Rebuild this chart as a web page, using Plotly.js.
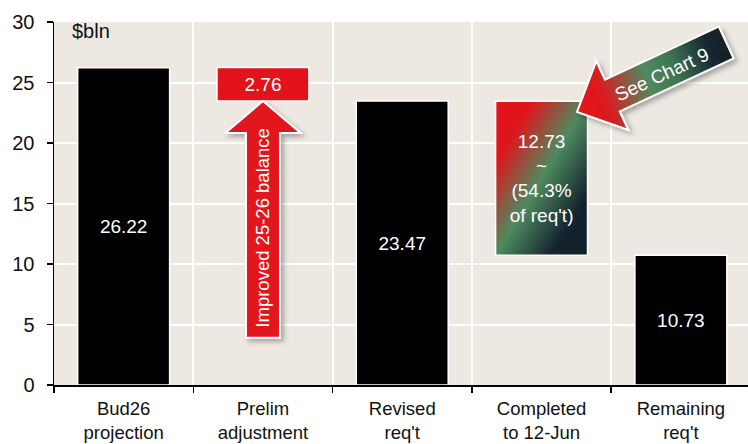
<!DOCTYPE html>
<html><head><meta charset="utf-8">
<script src="https://cdn.plot.ly/plotly-3.0.1.min.js"></script>
<style>html,body{margin:0;padding:0;background:#fff;overflow:hidden}#chart{width:748px;height:444px}</style>
</head><body><div id="chart"></div>
<script>
// ---- data ----
const categories = ['Bud26<br>projection', 'Prelim<br>adjustment', "Revised<br>req't", 'Completed<br>to 12-Jun', "Remaining<br>req't"];
const values = [26.22, 2.76, 23.47, 12.73, 10.73];
const bases = [0, 23.47, 0, 10.73, 0];
const shareOfReq = [null, null, null, '54.3%', null];
const yTickVals = [0, 5, 10, 15, 20, 25, 30];
const arrowLabels = ['Improved 25-26 balance', 'See Chart 9'];
const unitLabel = '$bln';

// ---- layout geometry ----
const W = 748, H = 444;
const M = {l: 54, r: 0, t: 22, b: 59};
const xRange = [-0.5, 4.482];
const yRange = [0, 30];
const plotW = W - M.l - M.r, plotH = H - M.t - M.b;
const px2x = px => xRange[0] + (px - M.l) / plotW * (xRange[1] - xRange[0]);
const py2y = py => yRange[0] + (M.t + plotH - py) / plotH * (yRange[1] - yRange[0]);

const barText = values.map((v, i) => shareOfReq[i]
  ? v.toFixed(2) + '<br>~<br>(' + shareOfReq[i] + "<br>of req't)"
  : v.toFixed(2));
const barColors = ['#000000', '#E2131B', '#000000', '#4E8A5F', '#000000'];

const FONT = 'Liberation Sans, Arial, sans-serif';

const data = [{
  type: 'bar',
  x: categories,
  y: values,
  base: bases,
  width: 0.66,
  marker: {color: barColors, line: {color: '#ffffff', width: 1.5}},
  text: barText,
  textposition: 'inside',
  insidetextanchor: 'middle',
  textangle: 0,
  constraintext: 'none',
  textfont: {family: FONT, size: 19, color: '#ffffff'},
  hoverinfo: 'none'
}];

// red up arrow (Prelim adjustment) in data coords
const rc = 1, tipY = bases[1], headBaseY = 20.83, bottomY = 3.9, headHalf = 0.27, shaftHalf = 0.122;
const redArrow = `M${rc - shaftHalf},${bottomY} L${rc - shaftHalf},${headBaseY} L${rc - headHalf},${headBaseY} L${rc},${tipY} L${rc + headHalf},${headBaseY} L${rc + shaftHalf},${headBaseY} L${rc + shaftHalf},${bottomY} Z`;

// gradient "See Chart 9" arrow, built in pixels then converted
const tip = [577, 112], ang = 25 * Math.PI / 180;
const u = [Math.cos(ang), -Math.sin(ang)], n = [Math.sin(ang), Math.cos(ang)];
const headLen = 39, headW = 38, shaftW = 17.5, totLen = 164.6;
const P = (a, b) => [tip[0] + a * u[0] + b * n[0], tip[1] + a * u[1] + b * n[1]];
const gPts = [P(0, 0), P(headLen, -headW), P(headLen, -shaftW), P(totLen, -shaftW), P(totLen, shaftW), P(headLen, shaftW), P(headLen, headW)];
const greenArrow = gPts.map((p, i) => (i ? 'L' : 'M') + px2x(p[0]).toFixed(4) + ',' + py2y(p[1]).toFixed(4)).join(' ') + ' Z';
const lbl = P(93, 1.5);

const layout = {
  width: W, height: H,
  margin: M,
  paper_bgcolor: '#ffffff',
  plot_bgcolor: '#EEE8E2',
  showlegend: false,
  font: {family: FONT, size: 19, color: '#111111'},
  xaxis: {
    type: 'category', range: xRange, tickson: 'boundaries',
    ticks: 'outside', ticklen: 6, tickwidth: 1.5, tickcolor: '#000',
    showline: true, linecolor: '#000', linewidth: 1.5,
    showgrid: true, gridcolor: '#ffffff', gridwidth: 2,
    ticklabelstandoff: 6,
    tickfont: {family: FONT, size: 18.5, color: '#111'},
    fixedrange: true
  },
  yaxis: {
    range: yRange, tickvals: yTickVals,
    ticks: 'outside', ticklen: 6, tickwidth: 1.5, tickcolor: '#000',
    showline: true, linecolor: '#000', linewidth: 1.5,
    showgrid: true, gridcolor: '#ffffff', gridwidth: 2,
    zeroline: false,
    ticklabelstandoff: 8,
    tickfont: {family: FONT, size: 20, color: '#111'},
    fixedrange: true
  },
  shapes: [
    {type: 'path', xref: 'x', yref: 'y', path: redArrow, fillcolor: '#E2131B', line: {color: '#ffffff', width: 2}},
    {type: 'path', xref: 'x', yref: 'y', path: greenArrow, fillcolor: '#4E8A5F', line: {color: '#ffffff', width: 2}}
  ],
  annotations: [
    {xref: 'paper', yref: 'paper', x: (70 - M.l) / plotW, y: 1 - (31 - M.t) / plotH, xanchor: 'left', yanchor: 'middle',
     text: unitLabel, showarrow: false, font: {family: FONT, size: 20, color: '#111'}},
    {xref: 'x', yref: 'y', x: rc, y: 13.0, text: arrowLabels[0], textangle: -90,
     showarrow: false, font: {family: FONT, size: 18.5, color: '#ffffff'}},
    {xref: 'x', yref: 'y', x: px2x(lbl[0]), y: py2y(lbl[1]), text: arrowLabels[1], textangle: -25,
     showarrow: false, font: {family: FONT, size: 19, color: '#ffffff'}}
  ]
};

Plotly.newPlot('chart', data, layout, {staticPlot: true, displayModeBar: false}).then(gd => {
  const NS = 'http://www.w3.org/2000/svg';
  const svg = gd.querySelector('svg.main-svg');
  let defs = svg.querySelector('defs');
  if (!defs) { defs = document.createElementNS(NS, 'defs'); svg.insertBefore(defs, svg.firstChild); }
  function mk(tag, attrs, parent) {
    const el = document.createElementNS(NS, tag);
    for (const k in attrs) el.setAttribute(k, attrs[k]);
    (parent || defs).appendChild(el);
    return el;
  }
  const g1 = mk('linearGradient', {id: 'barGrad', x1: 0, y1: 0, x2: 1, y2: 1});
  [[0, '#E4131B'], [0.2, '#DF151C'], [0.5, '#4E8A5F'], [0.8, '#14242F'], [1, '#12202B']]
    .forEach(s => mk('stop', {offset: s[0], 'stop-color': s[1]}, g1));
  const g2 = mk('linearGradient', {id: 'arrowGrad', gradientUnits: 'userSpaceOnUse', x1: 590, y1: 100, x2: 728, y2: 50});
  [[0, '#E2131B'], [0.1, '#D81E20'], [0.42, '#4E8A5F'], [0.62, '#3F7353'], [0.88, '#15262F'], [1, '#12202B']]
    .forEach(s => mk('stop', {offset: s[0], 'stop-color': s[1]}, g2));
  const f = mk('filter', {id: 'shadow', x: '-20%', y: '-20%', width: '150%', height: '150%'});
  mk('feDropShadow', {dx: 3, dy: 3, stdDeviation: 2.5, 'flood-color': '#000', 'flood-opacity': 0.3}, f);

  const bars = gd.querySelectorAll('.barlayer .point path');
  if (bars[3]) bars[3].style.fill = 'url(#barGrad)';
  const shp = gd.querySelectorAll('.shapelayer path');
  shp.forEach(p => { p.style.filter = 'url(#shadow)'; });
  if (shp[1]) shp[1].style.fill = 'url(#arrowGrad)';
});
</script>
</body></html>
